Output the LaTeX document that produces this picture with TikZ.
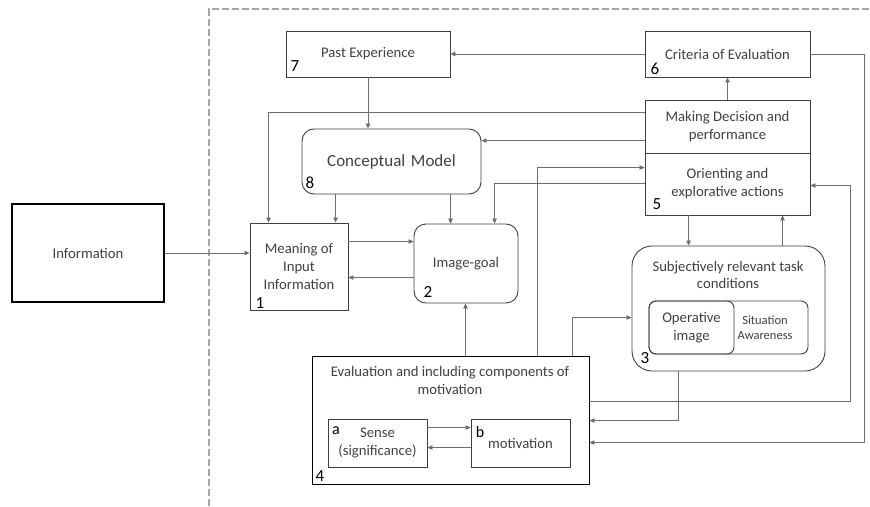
\documentclass[tikz,border=0pt]{standalone}
\usepackage{fontspec}
\setmainfont{Carlito}
\usetikzlibrary{arrows.meta,calc}

\definecolor{boxc}{HTML}{3F3F3F}
\definecolor{linec}{HTML}{6E6E6E}
\definecolor{txtc}{HTML}{404040}
\definecolor{framec}{HTML}{A6A6A6}

\newcommand\fsmain{\fontsize{14.7}{18}\selectfont}
\newcommand\fsbig{\fontsize{17}{20}\selectfont}
\newcommand\fsnum{\fontsize{17}{20}\selectfont}
\newcommand\fssmall{\fontsize{12.5}{15}\selectfont}

\tikzset{
  box/.style={draw=boxc, line width=0.9pt, inner sep=0pt, text=txtc,
              font=\fsmain, align=center},
  rbox/.style={box, rounded corners=12pt},
  lbl/.style={inner sep=0pt, text=txtc, font=\fsmain, align=center},
  num/.style={inner sep=0pt, text=black, font=\fsnum},
  conn/.style={draw=linec, line width=0.8pt,
               -{Triangle[length=5pt,width=4.5pt]}},
}

\begin{document}
\begin{tikzpicture}[x=1pt,y=-1pt]
\useasboundingbox (0,0) rectangle (870,506);

% dashed frame of the system boundary
\draw[framec, line width=1.6pt, dash pattern=on 7pt off 3pt]
  (209,506) -- (209,9) -- (870,9);

% outside input
\node[box, draw=black, line width=2.2pt, minimum width=152pt, minimum height=98pt]
  (info) at (88,253) {Information};

% top row
\node[box, minimum width=164pt, minimum height=46pt] (past) at (368,54) {Past Experience};
\node[box, minimum width=165pt, minimum height=46pt] (crit) at (727.5,54) {Criteria of Evaluation};

% decision / orienting block
\node[box, minimum width=165pt, minimum height=53pt] (make) at (727.5,126.5)
  {Making Decision and\\performance};
\node[box, minimum width=165pt, minimum height=62pt] (orient) at (727.5,184)
  {Orienting and\\explorative actions};

% conceptual model, meaning, image-goal
\node[rbox, minimum width=179pt, minimum height=65pt, font=\fsbig] (concept) at (391.5,161.5)
  {Conceptual\,\,Model};
\node[box, minimum width=98pt, minimum height=87pt] (meaning) at (299,266.5)
  {Meaning of\\Input\\Information};
\node[rbox, minimum width=104pt, minimum height=79pt] (goal) at (466,263.5) {Image-goal};

% task conditions
\node[box, rounded corners=20pt, minimum width=193pt, minimum height=125pt] (cond) at (728.5,308.5) {};
\node[lbl] (condtxt) at (728,275) {Subjectively relevant task\\[-1pt]conditions};
\node[box, rounded corners=7pt, minimum width=159pt, minimum height=53pt] (sa) at (728.5,327.5) {};
\node[box, rounded corners=7pt, minimum width=85pt, minimum height=53pt] (op) at (691.5,327.5)
  {Operative\\image};
\node[lbl, font=\fssmall] (satxt) at (765,328) {Situation\\Awareness};

% evaluation block
\node[box, draw=black, minimum width=277pt, minimum height=128pt] (evalbox) at (450.5,420) {};
\node[lbl] (evaltxt) at (450,380) {Evaluation and including components of\\motivation};
\node[box, minimum width=99pt, minimum height=48pt] (sense) at (377.5,443) {Sense\\(significance)};
\node[box, minimum width=99pt, minimum height=48pt] (motiv) at (520.5,443) {motivation};

% numbering
\node[num] (n7) at (295,66) {7};
\node[num] (n6) at (655,69) {6};
\node[num] (n5) at (657,204) {5};
\node[num] (n8) at (310,183) {8};
\node[num] (n1) at (260,303) {1};
\node[num] (n2) at (428,292) {2};
\node[num] (n3) at (645,358) {3};
\node[num] (n4) at (320,476) {4};
\node[num, font=\fontsize{16}{18}\selectfont] (na) at (336,431) {a};
\node[num, font=\fontsize{16}{18}\selectfont] (nb) at (480,432) {b};

% attachment points on the box edges
\coordinate (mk1) at ($(make.north west)+(0,13)$);
\coordinate (mk2) at ($(make.north west)+(0,41)$);
\coordinate (or1) at ($(orient.north west)+(0,15)$);
\coordinate (or2) at ($(orient.north west)+(0,31)$);
\coordinate (or3) at ($(orient.north east)+(0,33)$);
\coordinate (or4) at ($(orient.south west)+(44,0)$);
\coordinate (or5) at ($(orient.south west)+(138,0)$);
\coordinate (me1) at ($(meaning.north west)+(19,0)$);
\coordinate (me2) at ($(meaning.north east)+(0,19)$);
\coordinate (cm1) at ($(concept.south west)+(34,0)$);
\coordinate (cm2) at ($(concept.south west)+(149,0)$);
\coordinate (go1) at ($(goal.north west)+(81,0)$);
\coordinate (go2) at ($(goal.north west)+(0,54)$);
\coordinate (ev1) at ($(evalbox.north west)+(154,0)$);
\coordinate (ev2) at ($(evalbox.north west)+(226,0)$);
\coordinate (ev3) at ($(evalbox.north west)+(261,0)$);
\coordinate (ev4) at ($(evalbox.north east)+(0,46)$);
\coordinate (ev5) at ($(evalbox.north east)+(0,65)$);
\coordinate (ev6) at ($(evalbox.north east)+(0,87)$);
\coordinate (co1) at ($(cond.north west)+(0,72)$);
\coordinate (co2) at ($(cond.south west)+(47,0)$);
\coordinate (se1) at ($(sense.north east)+(0,9)$);
\coordinate (mo1) at ($(motiv.north west)+(0,29)$);
\coordinate (rt1) at ($(crit.east)+(54,0)$);
\coordinate (rt2) at ($(ev4)+(261,0)$);

% connectors
\draw[conn] (info.east) -- (info.east -| meaning.west);
\draw[conn] (crit.west) -- (past.east);
\draw[conn] (past.south) -- (past.south |- concept.north);
\draw[conn] (make.north) -- (crit.south);
\draw[conn] (mk1) -| (me1);
\draw[conn] (mk2) -- (mk2 -| concept.east);
\draw[conn] (ev2) |- (or1);
\draw[conn] (or2) -| (go1);
\draw[conn] (cm1) -- (cm1 |- meaning.north);
\draw[conn] (cm2) -- (cm2 |- goal.north);
\draw[conn] (me2) -- (me2 -| goal.west);
\draw[conn] (go2) -- (go2 -| meaning.east);
\draw[conn] (ev1) -- (ev1 |- goal.south);
\draw[conn] (ev3) |- (co1);
\draw[conn] (or4) -- (or4 |- cond.north);
\draw[conn] (or5 |- cond.north) -- (or5);
\draw[conn] (ev4) -- (rt2) |- (or3);
\draw[conn] (co2) |- (ev5);
\draw[conn] (crit.east) -- (rt1) |- (ev6);
\draw[conn] (se1) -- (se1 -| motiv.west);
\draw[conn] (mo1) -- (mo1 -| sense.east);
\end{tikzpicture}
\end{document}
